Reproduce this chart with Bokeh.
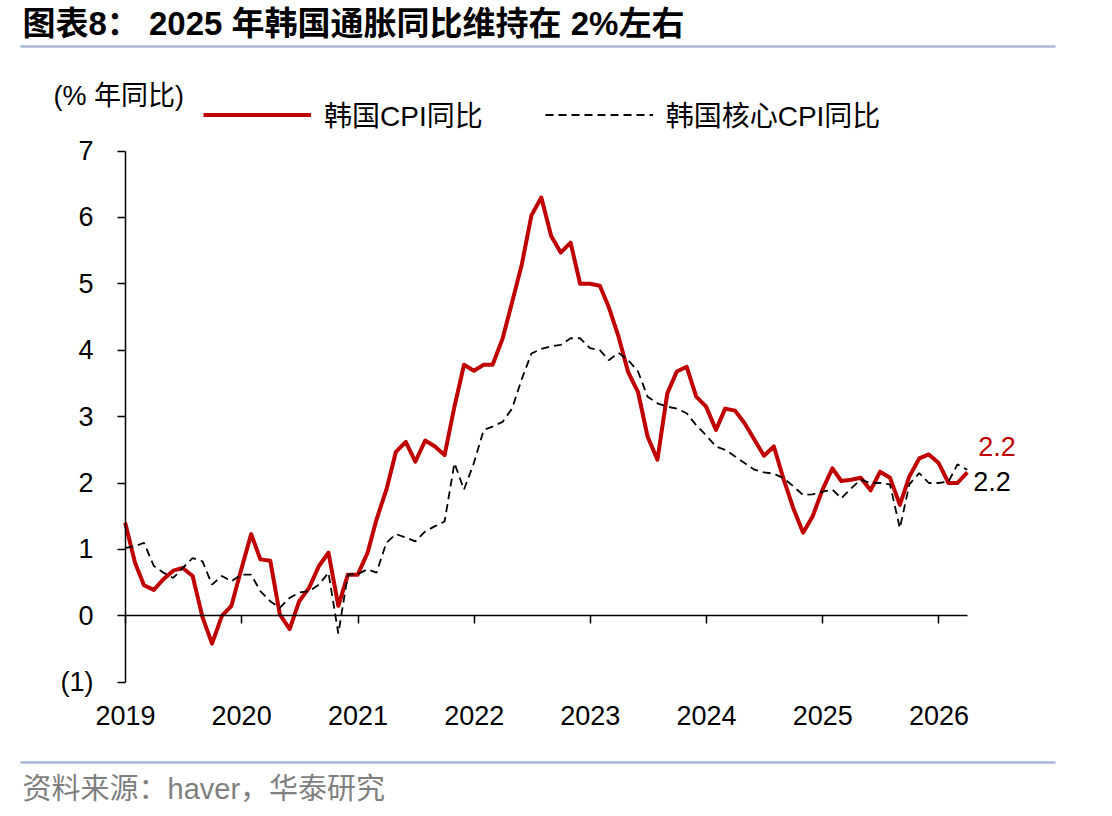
import datetime as dt
import pandas as pd
from bokeh.plotting import figure
from bokeh.models import (Range1d, FixedTicker, Legend, LegendItem, Label,
                          DatetimeTickFormatter)
from bokeh.layouts import column
from bokeh.embed import file_html
from bokeh.resources import INLINE
from bokeh.core.properties import value

# ---------------- data ----------------
title_text = "图表8： 2025 年韩国通胀同比维持在 2%左右"
source_text = "资料来源：haver，华泰研究"
unit_text = "(% 年同比)"
series_names = ["韩国CPI同比", "韩国核心CPI同比"]
start_month = "2018-12-31"

cpi = [1.4, 0.8, 0.46, 0.39, 0.55, 0.68, 0.72, 0.6, -0.02, -0.42, 0.0, 0.15, 0.7,
       1.23, 0.85, 0.83, 0.02, -0.2, 0.22, 0.42, 0.75, 0.95, 0.15, 0.62, 0.62,
       0.95, 1.45, 1.9, 2.47, 2.62, 2.32, 2.64, 2.55, 2.42, 3.15, 3.78, 3.69,
       3.78, 3.78, 4.17, 4.72, 5.3, 6.03, 6.3, 5.72, 5.47, 5.62, 5.0, 5.0,
       4.97, 4.65, 4.2, 3.67, 3.37, 2.7, 2.35, 3.35, 3.68, 3.75, 3.3, 3.15,
       2.8, 3.12, 3.09, 2.9, 2.65, 2.41, 2.55, 2.05, 1.62, 1.25, 1.5, 1.9,
       2.22, 2.03, 2.05, 2.08, 1.89, 2.17, 2.08, 1.67, 2.1, 2.37, 2.43, 2.3,
       2.0, 2.0, 2.16]

core = [1.02, 1.05, 1.1, 0.75, 0.65, 0.57, 0.72, 0.87, 0.82, 0.47, 0.6, 0.52, 0.62,
        0.62, 0.37, 0.22, 0.12, 0.27, 0.35, 0.37, 0.47, 0.65, -0.27, 0.62, 0.63,
        0.7, 0.65, 1.1, 1.23, 1.18, 1.12, 1.27, 1.35, 1.42, 2.3, 1.9, 2.3,
        2.8, 2.85, 2.92, 3.12, 3.57, 3.95, 4.02, 4.06, 4.08, 4.18, 4.18, 4.03,
        4.0, 3.85, 3.96, 3.85, 3.68, 3.3, 3.2, 3.15, 3.12, 3.05, 2.87, 2.72,
        2.55, 2.5, 2.4, 2.3, 2.2, 2.16, 2.14, 2.07, 1.95, 1.82, 1.83, 1.87,
        1.9, 1.77, 1.92, 2.05, 2.0, 2.0, 1.98, 1.32, 1.98, 2.15, 2.0, 2.0,
        2.02, 2.28, 2.2]

year_ticks = [2019, 2020, 2021, 2022, 2023, 2024, 2025, 2026]
y_ticks = [-1, 0, 1, 2, 3, 4, 5, 6, 7]
y_tick_labels = ["(1)", "0", "1", "2", "3", "4", "5", "6", "7"]

# ---------------- styles / geometry ----------------
FONT = "Liberation Sans, Noto Sans CJK SC"
RED = "#c00000"
RULE = "#a7bad0"
W = 1112
HEAD_H, MAIN_H, FOOT_H = 80, 680, 56
AXIS_X = 125            # screen x of the y axis (start of 2019)
ZERO_Y = 615.3 - HEAD_H  # y of value 0 inside the main figure (from top)
PX_YEAR = 116.2
PX_UNIT = 66.4


def ms(d):
    return pd.Timestamp(d).value // 10**6


dates = pd.date_range(start=start_month, periods=len(cpi), freq=pd.offsets.MonthEnd())
year_dates = [dt.datetime(y, 1, 1) for y in year_ticks]
year_ms = [ms(d) for d in year_dates]
origin = dt.datetime(year_ticks[0], 1, 1)

# ---------------- header ----------------
h = figure(width=W, height=HEAD_H, x_range=Range1d(0, W), y_range=Range1d(HEAD_H, 0),
           toolbar_location=None, output_backend="svg", min_border=0,
           x_axis_type=None, y_axis_type=None, outline_line_color=None)
h.grid.visible = False
h.text(x=[22], y=[23], text=[title_text], text_font=value(FONT),
       text_font_style="bold", text_font_size="33px", text_baseline="middle",
       text_color="black")
h.segment(x0=[20], y0=[46], x1=[1055], y1=[46], line_color=RULE, line_width=2.5)

# ---------------- main chart ----------------
x_start = origin - dt.timedelta(days=AXIS_X / PX_YEAR * 365.25)
x_end = origin + dt.timedelta(days=(W - AXIS_X) / PX_YEAR * 365.25)
y_end = ZERO_Y / PX_UNIT
y_start = -(MAIN_H - ZERO_Y) / PX_UNIT

p = figure(width=W, height=MAIN_H, x_axis_type="datetime", output_backend="svg",
           toolbar_location=None, x_range=Range1d(x_start, x_end),
           y_range=Range1d(y_start, y_end), min_border=0,
           min_border_left=0, min_border_right=0, min_border_top=0,
           min_border_bottom=0, outline_line_color=None)
p.xgrid.visible = False
p.ygrid.visible = False

r_cpi = p.line(dates, cpi, line_color=RED, line_width=4, line_join="round")
r_core = p.line(dates, core, line_color="black", line_width=1.8, line_dash="8 5")

# y axis, pinned at the start of 2019
ya = p.yaxis[0]
ya.fixed_location = ms(origin)
ya.ticker = FixedTicker(ticks=y_ticks)
ya.major_label_overrides = {t: l for t, l in zip(y_ticks, y_tick_labels)}
ya.bounds = (y_ticks[0], y_ticks[-1])
ya.axis_line_color = "black"
ya.axis_line_width = 1.5
ya.major_tick_line_color = "black"
ya.major_tick_line_width = 1.5
ya.major_tick_out = 8
ya.major_tick_in = 0
ya.minor_tick_line_color = None
ya.major_label_standoff = 24
ya.major_label_text_font = FONT
ya.major_label_text_font_size = "27px"
ya.major_label_text_color = "black"

# x axis, pinned at zero, labels pushed down to the bottom
xa = p.xaxis[0]
xa.fixed_location = 0
xa.bounds = (ms(dates[0]), ms(dates[-1]))
xa.ticker = FixedTicker(ticks=year_ms)
fmt = "%Y"
xa.formatter = DatetimeTickFormatter(microseconds=fmt, milliseconds=fmt, seconds=fmt,
                                     minsec=fmt, minutes=fmt, hourmin=fmt, hours=fmt,
                                     days=fmt, months=fmt, years=fmt)
xa.axis_line_color = "black"
xa.axis_line_width = 1.5
xa.major_tick_line_color = "black"
xa.major_tick_line_width = 1.5
xa.major_tick_out = 8
xa.major_tick_in = 0
xa.minor_tick_line_color = None
xa.major_label_standoff = 82
xa.major_label_text_font = FONT
xa.major_label_text_font_size = "27px"
xa.major_label_text_color = "black"

legend = Legend(items=[LegendItem(label=series_names[0], renderers=[r_cpi]),
                       LegendItem(label=series_names[1], renderers=[r_core])],
                orientation="horizontal", location=(203, 626), glyph_width=108,
                glyph_height=27, label_height=27, label_standoff=13, spacing=62,
                padding=0, margin=0, border_line_color=None, background_fill_alpha=0,
                label_text_font=FONT, label_text_font_size="28px",
                label_text_color="black")
p.add_layout(legend)

p.add_layout(Label(x=53, y=MAIN_H - (95 - HEAD_H), x_units="screen", y_units="screen",
                   text=unit_text, text_font=FONT, text_font_size="27px",
                   text_baseline="middle", text_color="black"))

p.add_layout(Label(x=dates[-1], y=cpi[-1], text=f"{cpi[-1]:.1f}", x_offset=11,
                   y_offset=26, text_font=FONT, text_font_size="27px",
                   text_baseline="middle", text_color=RED))
p.add_layout(Label(x=dates[-1], y=core[-1], text=f"{core[-1]:.1f}", x_offset=6,
                   y_offset=-12, text_font=FONT, text_font_size="27px",
                   text_baseline="middle", text_color="black"))

# ---------------- footer ----------------
f = figure(width=W, height=FOOT_H, x_range=Range1d(0, W), y_range=Range1d(FOOT_H, 0),
           toolbar_location=None, output_backend="svg", min_border=0,
           x_axis_type=None, y_axis_type=None, outline_line_color=None)
f.grid.visible = False
f.segment(x0=[20], y0=[2], x1=[1055], y1=[2], line_color=RULE, line_width=2.5)
f.text(x=[22], y=[28], text=[source_text], text_font=value(FONT),
       text_font_size="29px", text_baseline="middle", text_color="#7f7f7f")

layout = column(h, p, f, spacing=0)
open("out.html", "w").write(file_html(layout, INLINE))
